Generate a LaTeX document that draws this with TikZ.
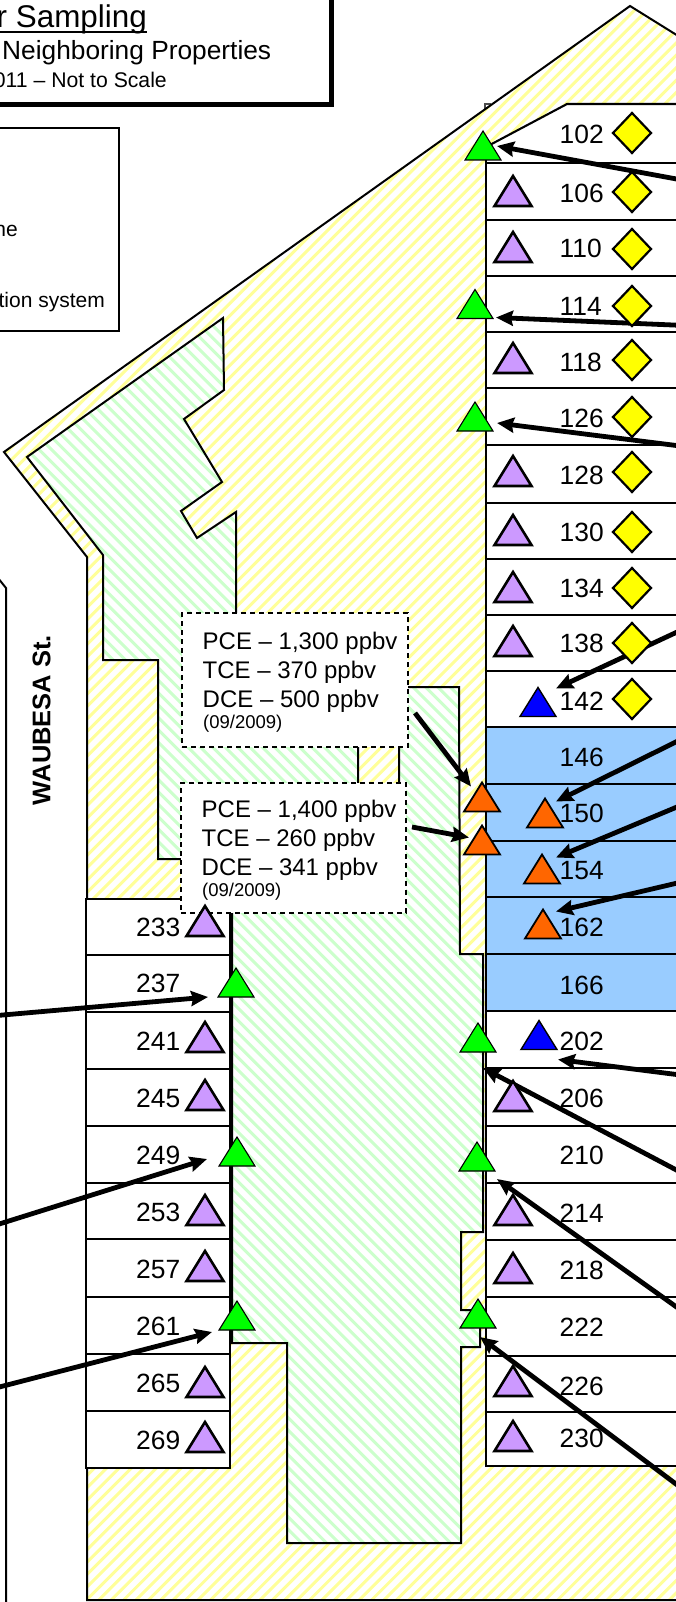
\documentclass[tikz,border=0pt]{standalone}
\usepackage{fontspec}
\setmainfont{Liberation Sans}
\usetikzlibrary{shapes.geometric,arrows.meta}
\definecolor{hatchy}{HTML}{FFFF99}
\definecolor{hatchg}{HTML}{CCFFCC}
\definecolor{lotblue}{HTML}{99CCFF}
\definecolor{tripurple}{HTML}{CC99FF}
\definecolor{tripgreen}{HTML}{00FF00}
\definecolor{triblue}{HTML}{0000FF}
\definecolor{triorange}{HTML}{FF6600}
\definecolor{diamy}{HTML}{FFFF00}
\pgfdeclarelayer{regions}
\pgfdeclarelayer{arrowsl}
\pgfsetlayers{regions,arrowsl,main}
\def\propertypoly{(630,6) -- (720,62) -- (720,1600) -- (87,1600) -- (87,557) -- (4,452) -- cycle}
\def\greenpoly{(27,457) -- (223,318) -- (224,390) -- (184,419) -- (222,482) -- (181,511)
  -- (197,538) -- (236,512) -- (236,700) -- (358,700) -- (358,790) -- (399,790) -- (399,687) -- (459,687)
  -- (460,954) -- (483,954) -- (483,1232) -- (461,1232) -- (461,1310) -- (480,1310) -- (480,1347) -- (461,1347)
  -- (461,1543) -- (287,1543) -- (287,1343) -- (232,1343) -- (232,859) -- (158,859) -- (158,660) -- (103,660)
  -- (103,555) -- cycle}
\tikzset{
  tribase/.style={shape=isosceles triangle,shape border rotate=90,isosceles triangle stretches,
    minimum width=36pt,minimum height=29pt,inner sep=0pt,outer sep=0pt,anchor=lower side,draw=black},
  tpurple/.style={tribase,fill=tripurple,line width=2.6pt,minimum width=37pt,minimum height=30pt},
  tgreen/.style={tribase,fill=tripgreen,line width=1.1pt},
  tblue/.style={tribase,fill=triblue,line width=1.4pt},
  torange/.style={tribase,fill=triorange,line width=1.8pt},
  diam/.style={shape=diamond,aspect=1,minimum width=38pt,minimum height=40pt,inner sep=0pt,outer sep=0pt,
    draw=black,fill=diamy,line width=2.2pt},
  num/.style={anchor=west,inner sep=0pt,font=\fontsize{26.4}{26}\selectfont},
  arr/.style={line width=4.8pt,-{Stealth[length=17pt,width=15pt,inset=2pt]}},
  dbox/.style={draw=black,fill=white,dashed,dash pattern=on 5pt off 4pt,line width=1.7pt,inner sep=0pt,outer sep=0pt},
  ppb/.style={anchor=base west,inner sep=0pt,font=\fontsize{24}{24}\selectfont},
  ppbdate/.style={anchor=base west,inner sep=0pt,font=\fontsize{18.5}{19}\selectfont},
  lot/.style={draw=black,line width=2.1pt},
}
\begin{document}
\begin{tikzpicture}[x=1pt,y=-1pt]
\useasboundingbox (0,0) rectangle (676,1602);
\begin{pgfonlayer}{regions}
\fill[white] (0,0) rectangle (676,1602);
% lot outline far left
\draw[black,line width=2pt] (-2,578) -- (6,588) -- (6,1610);
% property
\draw[black!70,line width=1.5pt] (485,111) -- (485,104) -- (491,104);
\begin{scope}
  \clip \propertypoly;
  \foreach \k in {0,12.4,...,2400}
    \draw[hatchy,line width=3pt] (\k,0) -- ({\k-1700},1700);
\end{scope}
\draw[black,line width=2pt] \propertypoly;
\fill[white] \greenpoly;
\begin{scope}
  \clip \greenpoly;
  \foreach \k in {-1700,-1687.6,...,700}
    \draw[hatchg,line width=3pt] (\k,0) -- ({\k+1700},1700);
\end{scope}
\draw[black,line width=2pt] \greenpoly;
% right lots
\path[fill=white] (486,147) -- (567,104) -- (720,104) -- (720,1466) -- (486,1466) -- cycle;
\fill[lotblue] (486,727) rectangle (720,1011);
\draw[lot] (486,147) -- (567,104) -- (720,104);
\draw[lot] (486,147) -- (486,1466) -- (720,1466);
\foreach \y in {163,220,276,332,388,445,503,559,615,671,727,784,841,897,954,1011,1068,1126,1183,1240,1297,1356,1412}
  \draw[lot] (486,\y) -- (720,\y);
% left lots
\draw[lot,fill=white] (86,899) rectangle (230,1468);
\foreach \y in {955,1012,1069,1126,1183,1239,1297,1354,1411}
  \draw[lot] (86,\y) -- (230,\y);
% title and legend boxes
\draw[draw=black,fill=white,line width=5pt] (-10,-10) rectangle (331,105);
\draw[draw=black,fill=white,line width=2.4pt] (-10,128) rectangle (119,331);
% dashed boxes
\node[dbox,minimum width=226pt,minimum height=134pt] (box1) at (295,680) {};
\node[dbox,minimum width=225pt,minimum height=130pt] (box2) at (293.5,848) {};
\end{pgfonlayer}

% title texts
\node[anchor=base east,inner sep=0pt,font=\fontsize{31.4}{32}\selectfont] (title) at (147,28) {r Sampling};
\draw[black,line width=2.4pt] (-2,32) -- (title.base east |- 0,32);
\node[anchor=base west,inner sep=0pt,font=\fontsize{26.3}{26}\selectfont] (sub) at (2,60) {Neighboring Properties};
\node[anchor=base east,inner sep=0pt,font=\fontsize{21.2}{21}\selectfont] (scale) at (167,88) {011 – Not to Scale};
\node[anchor=base east,inner sep=0pt,font=\fontsize{21}{21}\selectfont] (leg1) at (18,237) {ne};
\node[anchor=base east,inner sep=0pt,font=\fontsize{21}{21}\selectfont] (leg2) at (105,308) {tion system};
\node[rotate=90,inner sep=0pt,font=\fontsize{25.5}{26}\selectfont\bfseries] (street) at (41.5,720) {WAUBESA St.};

% dashed box texts
\node[ppb] (t1a) at (202.5,649) {PCE – 1,300 ppbv};
\node[ppb] (t1b) at (202.5,678) {TCE – 370 ppbv};
\node[ppb] (t1c) at (202.5,707) {DCE – 500 ppbv};
\node[ppbdate] (t1d) at (203,728) {(09/2009)};
\node[ppb] (t2a) at (201.5,817) {PCE – 1,400 ppbv};
\node[ppb] (t2b) at (201.5,846) {TCE – 260 ppbv};
\node[ppb] (t2c) at (201.5,875) {DCE – 341 ppbv};
\node[ppbdate] (t2d) at (202,896) {(09/2009)};

% lot numbers
\foreach \n/\y in {102/134.5,106/193,110/248,114/306,118/362,126/418,128/475,130/532,134/588,138/643,142/701,146/757,150/813,154/871,162/927,166/985,202/1041,206/1098,210/1155,214/1213,218/1270,222/1327,226/1386,230/1438}
  \node[num] (r\n) at (559.5,\y) {\n};
\foreach \n/\y in {233/927,237/983,241/1041,245/1098,249/1155,253/1212,257/1269,261/1326,265/1383,269/1440}
  \node[num] (l\n) at (136,\y) {\n};

% diamonds
\foreach \n/\y in {102/133,106/192,110/249,114/306,118/360,126/417,128/472,130/532,134/588,138/643,142/699}
  \node[diam] (d\n) at (632,\y) {};

% purple triangles
\foreach \n/\y in {106/206,110/262,118/373,128/486,130/545,134/602,138/656,206/1111,214/1225,218/1283,226/1396,230/1451}
  \node[tpurple] (p\n) at (513,\y) {};
\foreach \n/\y in {233/936,241/1052,245/1110,253/1225,257/1281,265/1397,269/1452}
  \node[tpurple] (p\n) at (205,\y) {};

% blue triangles
\node[tblue] (b142) at (538,716.5) {};
\node[tblue] (b202) at (539,1049.5) {};

% orange triangles
\node[torange] (oA) at (482,811.5) {};
\node[torange] (oB) at (482,854.5) {};
\node[torange] (o150) at (545,827.5) {};
\node[torange] (o154) at (542,883.5) {};
\node[torange] (o162) at (543,938.5) {};

% green triangles
\node[tgreen] (g1) at (483,160) {};
\node[tgreen] (g2) at (475,318.5) {};
\node[tgreen] (g3) at (475,431) {};
\node[tgreen] (g4) at (478,1052) {};
\node[tgreen] (g5) at (477,1171) {};
\node[tgreen] (g6) at (478,1328) {};
\node[tgreen] (g7) at (236,997) {};
\node[tgreen] (g8) at (237,1166) {};
\node[tgreen] (g9) at (237,1330) {};

% arrow tails
\coordinate (s1) at (720,187);
\coordinate (s2) at (720,327);
\coordinate (s3) at (720,451);
\coordinate (s4) at (720,612);
\coordinate (s5) at (720,720);
\coordinate (s6) at (720,789);
\coordinate (s7) at (720,873);
\coordinate (s8) at (720,1080);
\coordinate (s9) at (720,1193);
\coordinate (s10) at (720,1338);
\coordinate (s11) at (720,1517);
\coordinate (s12) at (-20,1017);
\coordinate (s13) at (-20,1230);
\coordinate (s14) at (-20,1392);

\begin{pgfonlayer}{arrowsl}
\draw[arr] (s1) -- ([shift={(14,15)}]g1.apex);
\draw[arr] (s2) -- ([shift={(21,28)}]g2.apex);
\draw[arr] (s3) -- ([shift={(22,21)}]g3.apex);
\draw[arr] (s4) -- ([shift={(18,1)}]b142.apex);
\draw[arr] (s5) -- ([shift={(11,3)}]o150.apex);
\draw[arr] (s6) -- ([shift={(14,3)}]o154.apex);
\draw[arr] (s7) -- ([shift={(13,2)}]o162.apex);
\draw[arr] (s8) -- ([shift={(19,39)}]b202.apex);
\draw[arr] (s9) -- ([shift={(5,45)}]g4.apex);
\draw[arr] (s10) -- ([shift={(20,37)}]g5.apex);
\draw[arr] (s11) -- ([shift={(2,38)}]g6.apex);
\draw[arr] (s12) -- ([shift={(-28,29)}]g7.apex);
\draw[arr] (s13) -- ([shift={(-30,22)}]g8.apex);
\draw[arr] (s14) -- ([shift={(-25,31)}]g9.apex);
\draw[arr] ([shift={(7,33)}]box1.east) -- ([shift={(-11,4)}]oA.apex);
\draw[arr] ([shift={(6,-21)}]box2.east) -- ([shift={(-13,12)}]oB.apex);
\end{pgfonlayer}
\end{tikzpicture}
\end{document}
